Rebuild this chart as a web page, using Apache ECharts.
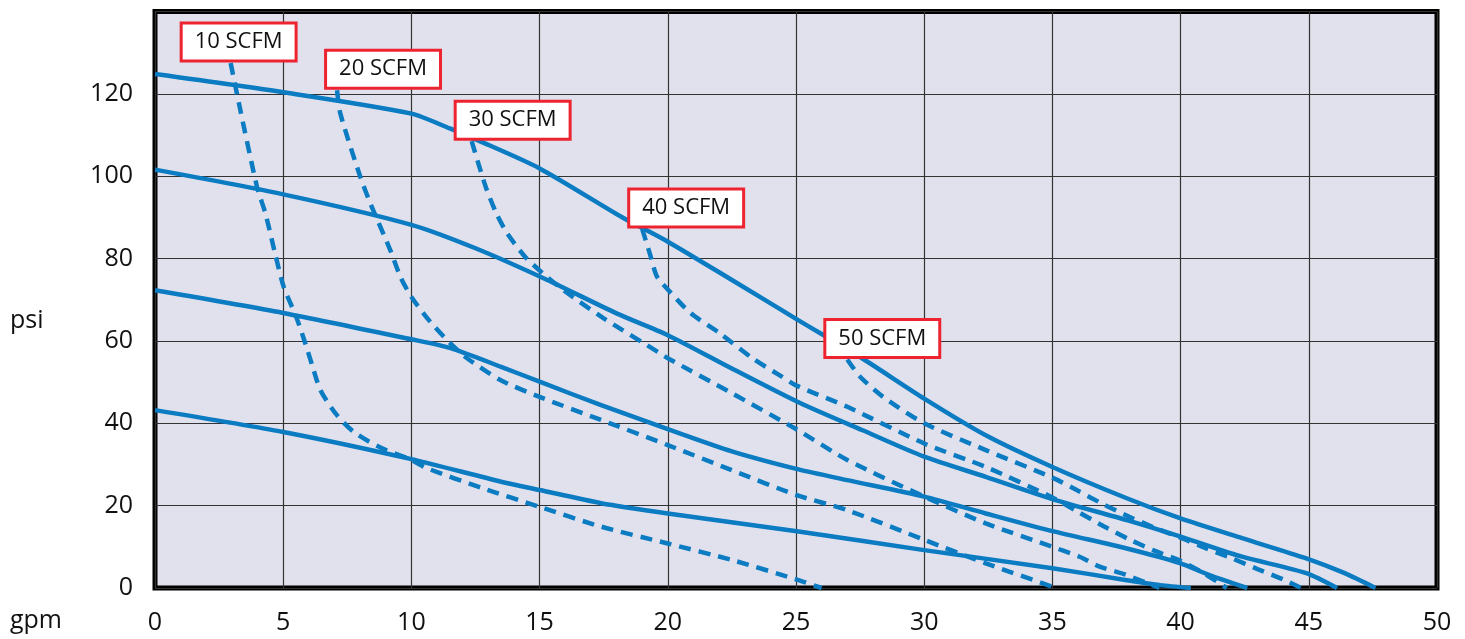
<!DOCTYPE html>
<html>
<head>
<meta charset="utf-8">
<script src="https://cdn.jsdelivr.net/npm/echarts@6/dist/echarts.min.js"></script>
<style>
html,body{margin:0;padding:0;background:#fff;}
#chart{width:1465px;height:639px;}
</style>
</head>
<body>
<div id="chart"></div>
<script>
// ---- data (gpm, psi) ----
const xTicks = [0, 5, 10, 15, 20, 25, 30, 35, 40, 45, 50];
const yTicks = [0, 20, 40, 60, 80, 100, 120, 140];

const solid125 = [[0,124.8],[5,120.4],[10,115.2],[11.5,111.6],[12.6,108.7],[15,101.9],[18.2,90.1],[20,84.1],[22.5,74.8],[25.1,65.0],[27.5,56.1],[30,46.0],[32.4,37.1],[35,29.4],[37.9,21.8],[40,16.9],[42.4,12.1],[44.9,7.2],[46.4,3.6],[47.6,0]];
const solid100 = [[0,101.6],[5,95.6],[10,88.2],[12.5,82.5],[15.3,74.8],[18,66.7],[20,61.4],[22.5,53.3],[25.2,44.8],[27.6,38.3],[30,31.9],[32.4,27.0],[35,21.6],[37.9,16.5],[40,12.5],[42.4,7.6],[44.9,3.6],[46.1,0]];
const solid70 = [[0,72.3],[5,66.8],[10,60.4],[11.5,58.3],[13.5,53.7],[15,50.1],[17.4,44.4],[20,38.6],[22.5,33.2],[25.1,28.8],[27,26.2],[30,22.2],[32.4,18.1],[35,13.8],[37.9,9.6],[40,6.0],[41.1,3.2],[42.6,0]];
const solid40 = [[0,43.2],[5,37.9],[10,31.3],[13.5,25.8],[15,23.8],[17.4,20.6],[20,18.1],[25.1,13.7],[30,9.2],[35,4.8],[37.9,1.9],[39.2,0.7],[40.4,0]];

const scfm10 = [[2.95,127.5],[3.33,116],[3.98,97.4],[4.31,90.9],[4.7,80.8],[5.02,73.1],[5.48,66.3],[5.8,60.6],[6.13,54.1],[6.45,48.1],[7.04,42.4],[7.75,37.9],[8.79,34.1],[10,31.1],[10.6,29.1],[12.8,24.2],[15,19.7],[17.4,14.9],[20,10.8],[22.5,6.8],[25,2.1],[26,0]];
const scfm20 = [[7.1,120.9],[7.23,115.2],[8.01,99.8],[8.4,93.4],[9.18,82],[9.57,75.6],[10,70.7],[10.74,64.6],[11.52,59.4],[12.17,55.8],[13.47,50.5],[15,46.4],[17.4,40.8],[20,34.7],[22.5,28.6],[25,22.6],[27,18.9],[30,11.7],[32.4,6.0],[35.15,0]];
const scfm30 = [[12.35,108.5],[12.9,97.4],[13.32,90.9],[13.74,86.1],[14.44,80.4],[15.13,76.4],[16,72],[17.5,65.5],[19.7,57],[20,55.8],[22.5,47.3],[25,38.6],[27,31.1],[30,22.2],[32.4,15.7],[35,10],[36.06,7.6],[36.84,5.2],[37.87,3.2],[39.17,0]];
const scfm40 = [[19.0,87.2],[19.3,81.2],[19.58,75.6],[20,72.5],[20.9,66.7],[22,62],[23.3,55.8],[24.4,51.5],[25,49.2],[27,44],[30,35.1],[32.4,29.4],[35,22],[36,18.5],[37,15],[38,11.8],[39,9],[40,6.6],[40.9,3.6],[41.8,0]];
const scfm50 = [[27.0,55.5],[27.5,51.3],[28.4,46.4],[30,40],[32.4,33.5],[35,26.8],[36,23.6],[37,20.3],[38,17.3],[39,14.6],[40,12.2],[41,9.6],[42,7.2],[43,4.6],[44,2.1],[44.7,0]];

const solidSeries = [
  { name: 'solid125', data: solid125 },
  { name: 'solid100', data: solid100 },
  { name: 'solid70', data: solid70 },
  { name: 'solid40', data: solid40 }
];
const dashedSeries = [
  { name: '10 SCFM', data: scfm10 },
  { name: '20 SCFM', data: scfm20 },
  { name: '30 SCFM', data: scfm30 },
  { name: '40 SCFM', data: scfm40 },
  { name: '50 SCFM', data: scfm50 }
];
// pixel offsets of the label boxes relative to the curve start
const labelShiftX = [8, 46, 41, 44, 35];

// ---- style ----
const BLUE = '#0b7bc2';
const FONT = 'Open Sans';

const series = [];
solidSeries.forEach(s => {
  series.push({
    name: s.name, type: 'line', data: s.data, showSymbol: false,
    smooth: 0.25,
    lineStyle: { color: BLUE, width: 4.5 }, z: 3
  });
});
dashedSeries.forEach((s, i) => {
  series.push({
    name: s.name, type: 'line', data: s.data, showSymbol: false,
    smooth: 0.25,
    lineStyle: { color: BLUE, width: 4.5, type: [12, 8] }, z: 3,
    markPoint: {
      symbol: 'circle', symbolSize: 1,
      itemStyle: { color: 'rgba(0,0,0,0)' },
      data: [{ coord: s.data[0] }],
      label: {
        show: true, position: 'top', distance: 3,
        offset: [labelShiftX[i], 0],
        formatter: s.name,
        fontFamily: FONT, fontSize: 22, color: '#111',
        backgroundColor: '#fff', borderColor: '#ee2330', borderWidth: 3,
        padding: [5, 12, 5, 12], lineHeight: 25
      },
      z: 5
    }
  });
});

const chart = echarts.init(document.getElementById('chart'), null, { renderer: 'canvas' });
chart.setOption({
  animation: false,
  backgroundColor: '#fff',
  grid: {
    left: 155, right: 28, top: 11.5, bottom: 51,
    show: true, backgroundColor: '#e1e1ee', borderColor: '#000', borderWidth: 5
  },
  xAxis: {
    type: 'value', min: xTicks[0], max: xTicks[xTicks.length - 1], interval: xTicks[1] - xTicks[0],
    axisLine: { show: false }, axisTick: { show: false },
    splitLine: { show: true, lineStyle: { color: '#333', width: 1.2 } },
    axisLabel: { fontFamily: FONT, fontSize: 25, color: '#111', margin: 22 }
  },
  yAxis: {
    type: 'value', min: yTicks[0], max: yTicks[yTicks.length - 1], interval: yTicks[1] - yTicks[0],
    axisLine: { show: false }, axisTick: { show: false },
    splitLine: { show: true, lineStyle: { color: '#333', width: 1.2 } },
    axisLabel: { fontFamily: FONT, fontSize: 25, color: '#111', margin: 22, showMaxLabel: false }
  },
  graphic: [
    { type: 'text', left: 10, top: 308, style: { text: 'psi', fontFamily: FONT, fontSize: 25, fill: '#111' } },
    { type: 'text', left: 10, top: 608, style: { text: 'gpm', fontFamily: FONT, fontSize: 25, fill: '#111' } }
  ],
  series: series
});
</script>
</body>
</html>
